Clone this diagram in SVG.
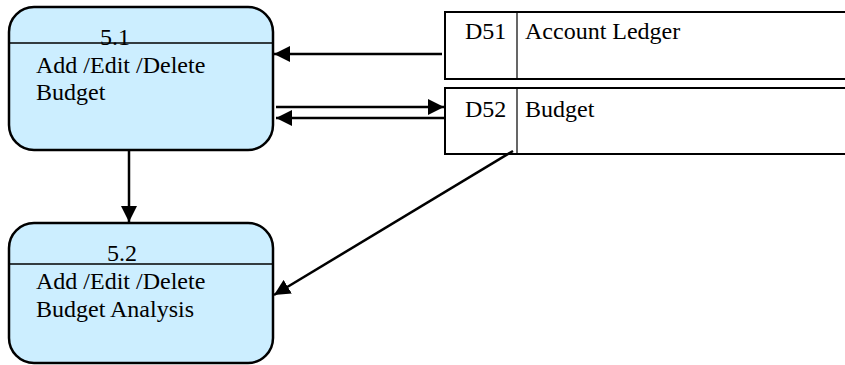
<svg xmlns="http://www.w3.org/2000/svg" width="845" height="365" viewBox="0 0 845 365">
  <defs>
    <marker id="ah" markerUnits="userSpaceOnUse" markerWidth="18" markerHeight="16" refX="16" refY="8" orient="auto">
      <path d="M0,0 L16,8 L0,16 Z" fill="#000"/>
    </marker>
    <style>
      .proc { fill: #cceeff; stroke: #000; stroke-width: 2.5; }
      .div { stroke: #000; stroke-width: 1.5; }
      .store { fill: #fff; stroke: #000; stroke-width: 2; }
      .sdiv { stroke: #000; stroke-width: 1.2; }
      .t { font-family: "Liberation Serif", "Times New Roman", serif; font-size: 24px; fill: #000; }
      .flow { stroke: #000; stroke-width: 2.5; fill: none; marker-end: url(#ah); }
    </style>
  </defs>
  <rect width="845" height="365" fill="#fff"/>

  <g id="p51">
    <rect class="proc" x="9" y="7" width="264" height="143" rx="25" ry="25"/>
    <line class="div" x1="9" y1="43" x2="273" y2="43"/>
    <text class="t" x="115" y="45" text-anchor="middle">5.1</text>
    <text class="t" x="36" y="73">Add /Edit /Delete</text>
    <text class="t" x="36" y="100">Budget</text>
  </g>

  <g id="p52">
    <rect class="proc" x="9" y="223" width="264" height="140" rx="25" ry="25"/>
    <line class="div" x1="9" y1="264" x2="273" y2="264"/>
    <text class="t" x="122" y="261" text-anchor="middle">5.2</text>
    <text class="t" x="36" y="289">Add /Edit /Delete</text>
    <text class="t" x="36" y="317">Budget Analysis</text>
  </g>

  <g id="d51">
    <rect class="store" x="445" y="12" width="410" height="67"/>
    <line class="sdiv" x1="517" y1="12" x2="517" y2="79"/>
    <text class="t" x="465" y="39">D51</text>
    <text class="t" x="525" y="39">Account Ledger</text>
  </g>

  <g id="d52">
    <rect class="store" x="445" y="88" width="410" height="66"/>
    <line class="sdiv" x1="517" y1="88" x2="517" y2="154"/>
    <text class="t" x="465" y="117">D52</text>
    <text class="t" x="525" y="117">Budget</text>
  </g>

  <g id="connectors">
    <line class="flow" x1="442" y1="54" x2="274" y2="54"/>
    <line class="flow" x1="276" y1="107" x2="444" y2="107"/>
    <line class="flow" x1="446" y1="118" x2="276" y2="118"/>
    <line class="flow" x1="129" y1="150" x2="129" y2="222"/>
    <line class="flow" x1="513" y1="151" x2="274" y2="295"/>
  </g>
</svg>
